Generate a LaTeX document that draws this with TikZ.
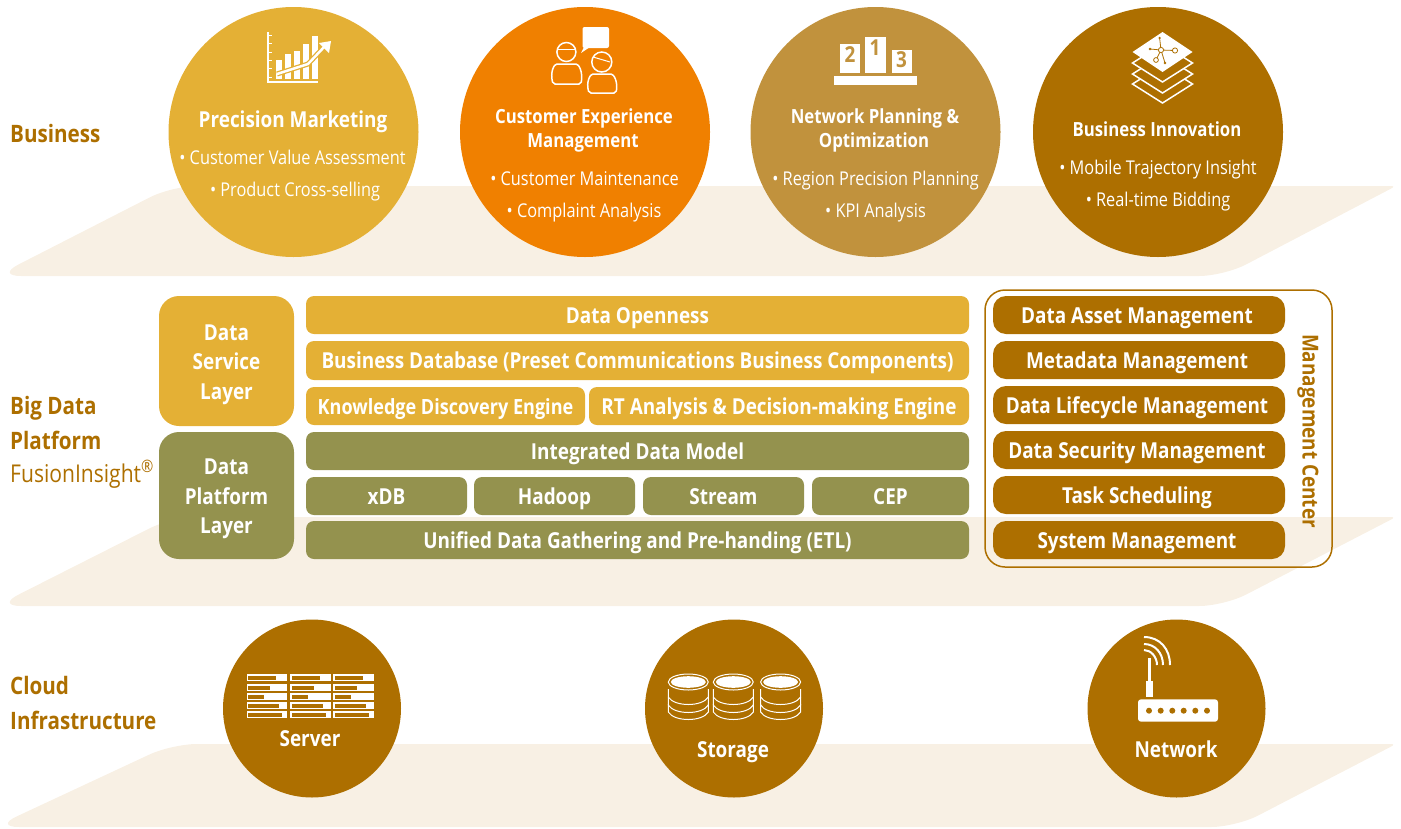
\documentclass[tikz,border=0pt]{standalone}
\usepackage{fontspec}
\setmainfont{Open Sans}[FakeStretch=0.86]
\definecolor{plane}{HTML}{F8F0E4}
\definecolor{gold}{HTML}{E4B035}
\definecolor{orng}{HTML}{F08000}
\definecolor{tan}{HTML}{C1923D}
\definecolor{brwn}{HTML}{AD6F00}
\definecolor{olive}{HTML}{94924E}
\begin{document}
\begin{tikzpicture}[x=1pt,y=-1pt]

    % styles
    \tikzstyle{band} = [fill=plane]
    \tikzstyle{disc} = [circle,inner sep=0pt]
    \tikzstyle{heading} = [anchor=base west,inner sep=0pt,text=brwn,font=\bfseries\fontsize{24}{28}\selectfont]
    \tikzstyle{title} = [anchor=base,inner sep=0pt,text=white,font=\bfseries\fontsize{19.5}{24}\selectfont]
    \tikzstyle{item} = [anchor=base,inner sep=0pt,text=white,font=\fontsize{19}{24}\selectfont]
    \tikzstyle{digit} = [inner sep=0pt,text=tan,font=\bfseries\fontsize{22}{24}\selectfont]
    \tikzstyle{bar} = [inner sep=0pt,rounded corners=8pt,minimum height=38pt,text height=18pt,text depth=2pt,text=white,font=\bfseries\fontsize{22}{26}\selectfont]
    \tikzstyle{layer} = [bar,rounded corners=20pt,minimum width=135pt,text height=78pt,align=center,execute at begin node={\setlength{\baselineskip}{29.5pt}}]
    \tikzstyle{pill} = [bar,rounded corners=13pt,minimum width=292pt,fill=brwn]
    \tikzstyle{icon} = [draw=white,line width=1.5pt]
    \useasboundingbox (0,0) rectangle (1401,828);

    % planes
    \foreach \y/\h/\l/\r in {186/90/-4/1224,517/89/-4/1224,744/83/-6/1236} {
        \fill[band,rounded corners=5pt] (\l,\y+\h) [rounded corners=25pt] -- (172,\y)
            [rounded corners=5pt] -- (1396,\y) [rounded corners=25pt] -- (\r,\y+\h) -- cycle;
    }

    % headings
    \node[heading] (business) at (10,142) {Business};
    \node[heading] (bigdata) at (10,414) {Big Data};
    \node[heading] (platform) at (10,449) {Platform};
    \node[heading,font=\fontsize{24.5}{28}\selectfont] (fusion) at (10,482) {FusionInsight\textsuperscript{®}};
    \node[heading] (cloud) at (10,694) {Cloud};
    \node[heading] (infra) at (10,729) {Infrastructure};

    % business circles
    \node[disc,fill=gold,minimum size=250pt] (marketing) at (293.5,132) {};
    \node[disc,fill=orng,minimum size=250pt] (experience) at (585,132) {};
    \node[disc,fill=tan,minimum size=250pt] (planning) at (875.5,132) {};
    \node[disc,fill=brwn,minimum size=250pt] (innovation) at (1158,132) {};

    \node[title,font=\bfseries\fontsize{22}{26}\selectfont] (marketingT) at (293,127) {Precision Marketing};
    \node[item] (marketingA) at (292.5,164) {• Customer Value Assessment};
    \node[item] (marketingB) at (295,196) {• Product Cross-selling};

    \node[title] (experienceT) at (584,123) {Customer Experience};
    \node[title] (experienceU) at (583,147) {Management};
    \node[item] (experienceA) at (584.5,185) {• Customer Maintenance};
    \node[item] (experienceB) at (584,217) {• Complaint Analysis};

    \node[title] (planningT) at (875,123) {Network Planning \&};
    \node[title] (planningU) at (874,147) {Optimization};
    \node[item] (planningA) at (875.5,185) {• Region Precision Planning};
    \node[item] (planningB) at (875.5,217) {• KPI Analysis};

    \node[title] (innovationT) at (1157,136) {Business Innovation};
    \node[item] (innovationA) at (1158,174) {• Mobile Trajectory Insight};
    \node[item] (innovationB) at (1158,206) {• Real-time Bidding};

    % chart icon
    \draw[icon] (268,32) -- (268,82) -- (318,82);
    \foreach \y in {35,43,52,60,68,77} {
        \draw[icon,line width=0.8pt] (268,\y) -- (272,\y);
    }
    \foreach \x/\y in {276/60,285/54,294/51,303/44,312/36} {
        \fill[white] (\x,\y) rectangle ++(6,79-\y);
    }
    \draw[gold,line width=5pt] (277,74) -- (308,64) -- (326,45);
    \draw[white,line width=2.5pt] (277,74) -- (308,64) -- (326,45);
    \fill[white] (331,41) -- (319,43) -- (329,53) -- cycle;

    % people icon
    \fill[white,rounded corners=2pt] (582.5,27) rectangle (609,48);
    \fill[white] (584,47) -- (581,53) -- (590,47) -- cycle;
    \draw[icon] (566.4,52) circle (9.5pt);
    \draw[icon,line width=1pt] (558,49) -- (575,49);
    \draw[icon,rounded corners=2pt] (553,84) .. controls (550,72) and (554,64) .. (559,64)
        -- (574,64) .. controls (579,64) and (583,72) .. (581,84) -- cycle;
    \draw[icon] (601.8,62) circle (10pt);
    \draw[icon,line width=1pt] (593,57) -- (610,62);
    \draw[icon,rounded corners=2pt] (589,93) .. controls (586,82) and (590,74) .. (595,74)
        -- (609,74) .. controls (614,74) and (618,82) .. (616,93) -- cycle;

    % podium icon
    \fill[white] (834,76) rectangle (917,85);
    \fill[white] (840,44) rectangle (860,73);
    \fill[white] (865,37) rectangle (885.6,73);
    \fill[white] (891.5,50) rectangle (912,73);
    \node[digit] (second) at (850,55) {2};
    \node[digit] (first) at (875,48) {1};
    \node[digit] (third) at (901.5,60) {3};

    % stacked layers icon
    \foreach \y in {84,74,63} {
        \draw[icon,fill=brwn] (1132.5,\y) -- (1162.5,\y-19) -- (1192.5,\y) -- (1162.5,\y+19) -- cycle;
    }
    \fill[white] (1132.5,52) -- (1162.5,32) -- (1192.5,52) -- (1162.5,72) -- cycle;
    \draw[brwn,line width=0.8pt] (1161,50) -- (1175,50.5) (1161,50) -- (1156,60)
        (1161,50) -- (1165,63) (1161,50) -- (1159.6,38) (1161,50) -- (1150,49);
    \filldraw[draw=brwn,fill=white,line width=0.8pt] (1161,50) circle (2.6pt) (1175,50.5) circle (2.6pt) (1156,60) circle (2.4pt);
    \fill[brwn] (1165,63) circle (1.3pt) (1159.6,38) circle (1.3pt) (1150,49) circle (1.3pt);

    % service layer
    \node[layer,fill=gold,minimum height=130pt] (service) at (226.5,361) {Data\\Service\\Layer};
    \node[bar,fill=gold,minimum width=663pt] (openness) at (637.5,315) {Data Openness};
    \node[bar,fill=gold,minimum width=663pt,minimum height=39pt] (database) at (637.5,360.5) {Business Database (Preset Communications Business Components)};
    \node[bar,fill=gold,minimum width=279pt,font=\bfseries\fontsize{21}{26}\selectfont] (knowledge) at (445.5,406) {Knowledge Discovery Engine};
    \node[bar,fill=gold,minimum width=380pt] (analysis) at (779,406) {RT Analysis \& Decision-making Engine};

    % platform layer
    \node[layer,fill=olive,minimum height=127pt] (dataplatform) at (226.5,495.5) {Data\\Platform\\Layer};
    \node[bar,fill=olive,minimum width=663pt] (model) at (637.5,451) {Integrated Data Model};
    \node[bar,fill=olive,minimum width=161pt] (xdb) at (386.5,496) {xDB};
    \node[bar,fill=olive,minimum width=161pt] (hadoop) at (554.5,496) {Hadoop};
    \node[bar,fill=olive,minimum width=161pt] (stream) at (723.5,496) {Stream};
    \node[bar,fill=olive,minimum width=157pt] (cep) at (890.5,496) {CEP};
    \node[bar,fill=olive,minimum width=663pt] (etl) at (637.5,540) {Unified Data Gathering and Pre-handing (ETL)};

    % management
    \node[draw=brwn,line width=1.5pt,rounded corners=20pt,minimum width=347pt,minimum height=277pt] (center) at (1158.5,428.5) {};
    \foreach \name/\y/\txt in {asset/315/Data Asset Management,meta/360/Metadata Management,
        cycle/405/Data Lifecycle Management,secure/450/Data Security Management,
        task/495/Task Scheduling,system/540/System Management} {
        \node[pill] (\name) at (1139,\y) {\txt\hspace*{4pt}};
    }
    \node[rotate=-90,inner sep=0pt,text=brwn,font=\bfseries\fontsize{22}{26}\selectfont] (centerT) at (1308,431) {Management Center};

    % infrastructure circles
    \node[disc,fill=brwn,minimum size=178pt] (server) at (312,708.5) {};
    \node[disc,fill=brwn,minimum size=178pt] (storage) at (734,708.5) {};
    \node[disc,fill=brwn,minimum size=178pt] (network) at (1176.5,708.5) {};
    \node[title,font=\bfseries\fontsize{22}{26}\selectfont] (serverT) at (310,746) {Server};
    \node[title,font=\bfseries\fontsize{22}{26}\selectfont] (storageT) at (733,757) {Storage};
    \node[title,font=\bfseries\fontsize{22}{26}\selectfont] (networkT) at (1176,757) {Network};

    % server icon
    \foreach \x in {246.5,290,333.2} {
        \foreach \y/\w in {674/28,684/22,693/16,702/31,711/34} {
            \fill[white] (\x,\y) rectangle ++(40.6,7.4);
            \fill[brwn] (\x+1.6,\y+1.8) rectangle ++(\w,3.8);
        }
    }

    % storage icon
    \foreach \x in {688.3,733.3,780.6} {
        \foreach \y in {712,705,697} {
            \draw[draw=white,line width=1pt] (\x-20,\y-8) -- (\x-20,\y) .. controls (\x-14,\y+10) and (\x+14,\y+10) .. (\x+20,\y) -- (\x+20,\y-8);
        }
        \draw[draw=white,line width=1pt,fill=brwn] (\x,682) ellipse (20pt and 8pt);
        \fill[white] (\x,682) ellipse (17.5pt and 5.8pt);
    }

    % router icon
    \fill[white,rounded corners=3pt] (1138,699.3) rectangle (1218,721.7);
    \foreach \x in {1149,1160.7,1172.3,1183.7,1195.3,1207} {
        \fill[brwn] (\x,710.7) circle (3pt);
    }
    \fill[white] (1145.7,681) rectangle (1152.7,697);
    \fill[white] (1148.2,658) rectangle (1150.8,681);
    \draw[white,line width=2pt] (1144,637) .. controls (1160,637) and (1170,649) .. (1170,665);
    \draw[white,line width=2pt] (1144,644) .. controls (1155,644) and (1163,653) .. (1163,665);
    \draw[white,line width=2pt] (1144,650) .. controls (1151,650) and (1157,657) .. (1157,665);
\end{tikzpicture}
\end{document}
